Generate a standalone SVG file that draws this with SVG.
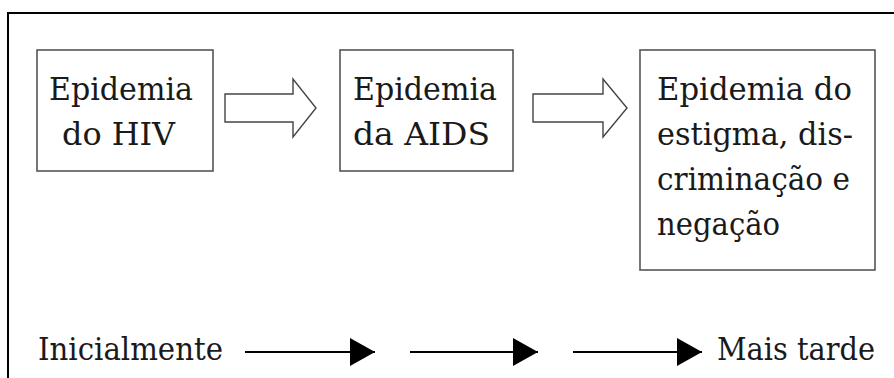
<svg xmlns="http://www.w3.org/2000/svg" width="894" height="378" viewBox="0 0 894 378">
<style>
.t{font-family:'DejaVu Serif','Noto Serif','Times New Roman',serif;font-size:32px;fill:#1a1a1a}
.box{fill:#fff;stroke:#555;stroke-width:1.6}
.blk{fill:#fff;stroke:#444;stroke-width:1.4;stroke-linejoin:miter}
.ln{stroke:#000;stroke-width:2.2;fill:none}
</style>
<defs>
<marker id="ah" markerWidth="25" markerHeight="28" refX="25" refY="14" orient="auto" markerUnits="userSpaceOnUse">
<path d="M0,0 L25,14 L0,28 Z" fill="#000"/>
</marker>
</defs>
<rect width="894" height="378" fill="#fff"/>
<path d="M8,378 V13 H894" fill="none" stroke="#000" stroke-width="2"/>
<g id="n1">
<rect class="box" x="37" y="50" width="176" height="121"/>
<text class="t" x="49" y="100" textLength="144" lengthAdjust="spacingAndGlyphs">Epidemia</text>
<text class="t" x="62" y="145" textLength="113" lengthAdjust="spacingAndGlyphs">do HIV</text>
</g>
<g id="n2">
<rect class="box" x="340" y="50" width="173" height="121"/>
<text class="t" x="353" y="100" textLength="144" lengthAdjust="spacingAndGlyphs">Epidemia</text>
<text class="t" x="353" y="145" textLength="137" lengthAdjust="spacingAndGlyphs">da AIDS</text>
</g>
<g id="n3">
<rect class="box" x="640" y="50" width="235" height="220"/>
<text class="t" x="657" y="100" textLength="195" lengthAdjust="spacingAndGlyphs">Epidemia do</text>
<text class="t" x="657" y="145" textLength="196" lengthAdjust="spacingAndGlyphs">estigma, dis-</text>
<text class="t" x="657" y="190" textLength="193" lengthAdjust="spacingAndGlyphs">criminação e</text>
<text class="t" x="657" y="235" textLength="123" lengthAdjust="spacingAndGlyphs">negação</text>
</g>
<g id="timeline">
<text class="t" x="38" y="360" textLength="185" lengthAdjust="spacingAndGlyphs">Inicialmente</text>
<text class="t" x="717" y="360" textLength="158" lengthAdjust="spacingAndGlyphs">Mais tarde</text>
</g>
<g id="connectors">
<path class="blk" d="M225,94 H293 V79 L316,108 L293,137 V122 H225 Z"/>
<path class="blk" d="M533,94 H603 V79 L627,108 L603,137 V122 H533 Z"/>
<line class="ln" x1="245" y1="352" x2="375" y2="352" marker-end="url(#ah)"/>
<line class="ln" x1="410" y1="352" x2="538" y2="352" marker-end="url(#ah)"/>
<line class="ln" x1="573" y1="352" x2="702" y2="352" marker-end="url(#ah)"/>
</g>
</svg>
